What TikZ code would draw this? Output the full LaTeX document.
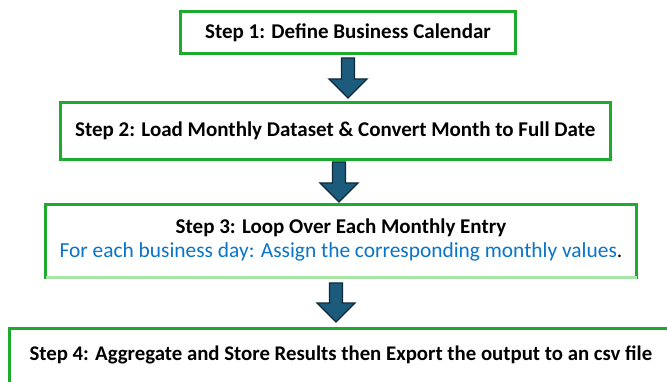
\documentclass[tikz,border=0pt]{standalone}
\usepackage{fontspec}
\setmainfont{Carlito}
\definecolor{boxgreen}{HTML}{1EAA2E}
\definecolor{lightgreen}{HTML}{A8E6A8}
\definecolor{arrowfill}{HTML}{1D5B7C}
\definecolor{arrowedge}{HTML}{0E2A3A}
\definecolor{textblue}{HTML}{0A74C8}
\newcommand\blkarrow[4]{%
  \filldraw[arrowshape] (#1-6.5,#2) -- (#1+6.5,#2) -- (#1+6.5,#3) -- (#1+19,#3)
    -- (#1,#4) -- (#1-19,#3) -- (#1-6.5,#3) -- cycle;}
\begin{document}
\begin{tikzpicture}[x=1pt,y=-1pt,
  greenbox/.style={draw=boxgreen, line width=3pt, rectangle, inner sep=0pt},
  steptext/.style={font=\fontsize{21}{25}\selectfont\bfseries, text=black},
  arrowshape/.style={fill=arrowfill, draw=arrowedge, line width=1.3pt, line join=miter}]
\useasboundingbox (0,0) rectangle (667,382);
\clip (0,0) rectangle (667,382);
\fill[white] (0,0) rectangle (667,382);
% box 1
\node[greenbox, minimum width=335pt, minimum height=42pt, steptext] (b1) at (348,32.5)
  {Step 1: Define Business Calendar};
% box 2
\node[greenbox, minimum width=550.5pt, minimum height=57pt, steptext] (b2) at (335.25,131)
  {Step 2: Load Monthly Dataset \& Convert Month to Full Date};
% box 3
\node[rectangle, minimum width=591pt, minimum height=71pt, inner sep=0pt, align=center,
  font=\fontsize{21}{25}\selectfont] (b3) at (341,240)
  {\textbf{Step 3: Loop Over Each Monthly Entry}\\[-1pt]
   {\fontsize{21.4}{25}\selectfont\textcolor{textblue}{For each business day: Assign the corresponding monthly values}.}};
\draw[draw=boxgreen, line width=3pt] (340,277.5) -| (b3.north west) -- (b3.north east) |- (340,277.5);
\draw[draw=lightgreen, line width=3pt] (45.5,277.5) -- (636.5,277.5);
% box 4
\coordinate (b4nw) at (9.5,328.5);
\coordinate (b4se) at (690,400);
\draw[draw=boxgreen, line width=3pt] (b4nw) rectangle (b4se);
\node[steptext, anchor=west, font=\fontsize{20.8}{25}\selectfont\bfseries] (b4) at (26,355)
  {Step 4: Aggregate and Store Results then Export the output to an csv file};
% arrows
\blkarrow{348}{58}{79}{98}
\blkarrow{339}{162}{183}{202}
\blkarrow{336}{283}{303}{322}
\end{tikzpicture}
\end{document}
